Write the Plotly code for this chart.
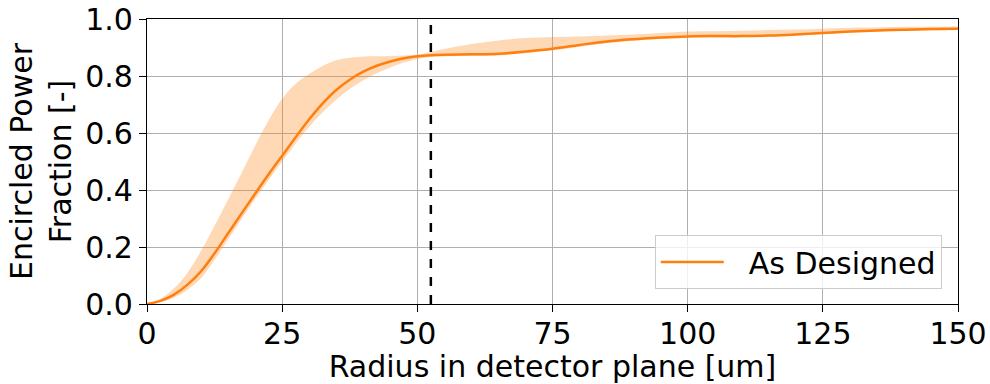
import plotly.graph_objects as go

# ---- data ----
radius = [0, 2.5, 5, 7.5, 10, 12.5, 15, 17.5, 20, 22.5, 25, 27.5, 30, 32.5, 35, 37.5,
          40, 42.5, 45, 47.5, 50, 52.5, 55, 60, 65, 70, 75, 80, 85, 90, 95, 100,
          105, 110, 115, 120, 125, 130, 137.5, 145, 150]
as_designed = [0, 0.011, 0.033, 0.068, 0.115, 0.178, 0.248, 0.318, 0.387, 0.455, 0.52, 0.585,
               0.648, 0.704, 0.751, 0.787, 0.815, 0.836, 0.851, 0.862, 0.869, 0.873, 0.875,
               0.876, 0.878, 0.886, 0.896, 0.909, 0.921, 0.929, 0.935, 0.939,
               0.940, 0.940, 0.942, 0.946, 0.951, 0.956, 0.961, 0.965, 0.966]
band_upper = [0, 0.018, 0.055, 0.11, 0.187, 0.275, 0.367, 0.46, 0.555, 0.645, 0.72, 0.773,
              0.807, 0.835, 0.855, 0.864, 0.868, 0.869, 0.870, 0.872, 0.875, 0.884, 0.895,
              0.912, 0.925, 0.933, 0.937, 0.939, 0.942, 0.946, 0.951, 0.956,
              0.957, 0.959, 0.961, 0.963, 0.966, 0.969, 0.972, 0.973, 0.974]
band_lower = [0, 0.007, 0.022, 0.05, 0.09, 0.155, 0.226, 0.298, 0.368, 0.435, 0.5, 0.563,
              0.622, 0.673, 0.717, 0.754, 0.785, 0.81, 0.83, 0.847, 0.86, 0.867, 0.869,
              0.870, 0.872, 0.880, 0.890, 0.903, 0.915, 0.924, 0.930, 0.934,
              0.935, 0.936, 0.938, 0.942, 0.947, 0.952, 0.957, 0.960, 0.962]
threshold_radius = 52.5
series_name = "As Designed"
x_ticks = [0, 25, 50, 75, 100, 125, 150]
y_ticks = [0.0, 0.2, 0.4, 0.6, 0.8, 1.0]

ORANGE = "#ff7f0e"
FONT = "DejaVu Sans"
FS = 30

fig = go.Figure()
fig.add_trace(go.Scatter(x=radius, y=band_upper, mode="lines", line=dict(width=0, shape="spline"),
                         showlegend=False, hoverinfo="skip"))
fig.add_trace(go.Scatter(x=radius, y=band_lower, mode="lines", line=dict(width=0, shape="spline"),
                         fill="tonexty", fillcolor="rgba(255,127,14,0.3)",
                         showlegend=False, hoverinfo="skip"))
fig.add_trace(go.Scatter(x=radius, y=as_designed, mode="lines",
                         name="\u2002\u2006" + series_name,
                         line=dict(color=ORANGE, width=2.5, shape="spline")))

fig.add_vline(x=threshold_radius, line=dict(color="black", width=2.5, dash="dash"))

axis_common = dict(showline=True, linecolor="black", linewidth=1.2, mirror=True,
                   ticks="outside", ticklen=7, tickwidth=1.2, tickcolor="black",
                   showgrid=True, gridcolor="#b0b0b0", gridwidth=1, zeroline=False,
                   automargin=False,
                   tickfont=dict(family=FONT, size=FS, color="black"))

fig.update_layout(
    width=990, height=384,
    margin=dict(l=147, r=32, t=19, b=80),
    paper_bgcolor="white", plot_bgcolor="white",
    font=dict(family=FONT, color="black"),
    xaxis=dict(range=[0, 150], tickvals=x_ticks, ticklabelstandoff=-4,
               title=dict(text="Radius in detector plane [um]", font=dict(family=FONT, size=FS),
                          standoff=0),
               **axis_common),
    yaxis=dict(range=[0, 1], tickvals=y_ticks, tickformat=".1f",
               title=dict(text="Encircled Power<br>Fraction [-]", font=dict(family=FONT, size=FS),
                          standoff=4),
               **axis_common),
    legend=dict(x=0.98, y=0.053, xanchor="right", yanchor="bottom",
                bgcolor="rgba(255,255,255,0.8)", bordercolor="#cccccc", borderwidth=1,
                font=dict(family=FONT, size=FS, color="black"), itemwidth=63),
)

fig.write_html("out.html")
